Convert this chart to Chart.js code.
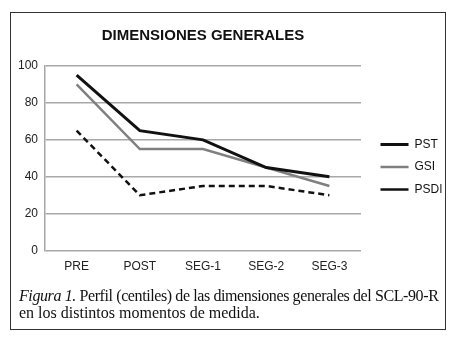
<!DOCTYPE html>
<html>
<head>
<meta charset="utf-8">
<script src="https://cdn.jsdelivr.net/npm/chart.js@4.4.1/dist/chart.umd.min.js"></script>
<style>
  html, body { margin: 0; padding: 0; background: #fff; width: 453px; height: 343px; overflow: hidden; }
  #frame { position: absolute; left: 10px; top: 12px; width: 436px; height: 318px; box-sizing: border-box; border: 1.5px solid #333; }
  #chart { position: absolute; left: 0; top: 0; }
  #caption { position: absolute; left: 19px; top: 288px; font-family: "Liberation Serif", "Times New Roman", serif; font-size: 16px; line-height: 16.5px; color: #111; white-space: nowrap; }
  #caption .l1 { letter-spacing: -0.4px; }
</style>
</head>
<body>
<div id="frame"></div>
<canvas id="chart" width="453" height="290"></canvas>
<div id="caption"><span class="l1"><i>Figura 1.</i> Perfil (centiles) de las dimensiones generales del SCL-90-R</span><br>en los distintos momentos de medida.</div>
<script>
const categories = ["PRE", "POST", "SEG-1", "SEG-2", "SEG-3"];
const pst  = [95, 65, 60, 45, 40];
const gsi  = [90, 55, 55, 45, 35];
const psdi = [65, 30, 35, 35, 30];
const yTicks = [0, 20, 40, 60, 80, 100];
const chartTitle = "DIMENSIONES GENERALES";

const FONT = "'Liberation Sans', Arial, Helvetica, sans-serif";

new Chart(document.getElementById("chart"), {
  type: "line",
  data: {
    labels: categories,
    datasets: [
      { label: "PST", data: pst, borderColor: "#111", backgroundColor: "#111", borderWidth: 3, pointRadius: 0, tension: 0, fill: false },
      { label: "GSI", data: gsi, borderColor: "#808080", backgroundColor: "#808080", borderWidth: 2.5, pointRadius: 0, tension: 0, fill: false },
      { label: "PSDI", data: psdi, borderColor: "#111", backgroundColor: "#111", borderWidth: 2.5, borderDash: [6, 4], pointRadius: 0, tension: 0, fill: false }
    ]
  },
  options: {
    responsive: false,
    animation: false,
    devicePixelRatio: 1,
    layout: { padding: { left: 11, right: 11.2, top: 0, bottom: 7 } },
    font: { family: FONT },
    plugins: {
      title: {
        display: true,
        text: chartTitle,
        fullSize: false,
        color: "#111",
        font: { family: FONT, size: 15, weight: "bold", lineHeight: 1.2 },
        padding: { top: 27, bottom: 21 }
      },
      legend: {
        display: true,
        position: "right",
        align: "center",
        fullSize: false,
        title: { display: true, text: " ", font: { size: 12, lineHeight: 1 }, padding: { top: 0, bottom: 5.4 } },
        labels: {
          usePointStyle: true,
          pointStyle: "line",
          pointStyleWidth: 28,
          boxHeight: 12,
          padding: 10.5,
          color: "#111",
          font: { family: FONT, size: 12 }
        }
      },
      tooltip: { enabled: false }
    },
    scales: {
      x: {
        offset: true,
        grid: { display: false, drawTicks: false },
        border: { display: false },
        ticks: { color: "#222", font: { family: FONT, size: 12 }, padding: 9, maxRotation: 0 }
      },
      y: {
        min: 0,
        max: 100,
        afterBuildTicks: (s) => { s.ticks = yTicks.map(v => ({ value: v })); },
        grid: { color: "#a8a8a8", lineWidth: 1.5, drawTicks: false },
        border: { display: true, color: "#a8a8a8", width: 1.5 },
        ticks: { color: "#222", font: { family: FONT, size: 12 }, padding: 7 }
      },
      gap: {
        type: "linear",
        position: "right",
        display: true,
        grid: { display: false, drawTicks: true, tickLength: 9 },
        border: { display: false },
        ticks: { display: false }
      }
    }
  }
});
</script>
</body>
</html>
